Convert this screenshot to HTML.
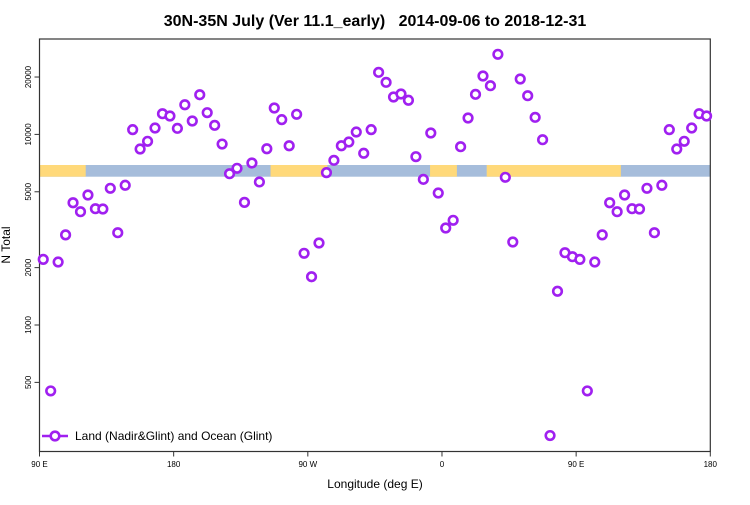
<!DOCTYPE html>
<html><head><meta charset="utf-8"><style>
body{margin:0;background:#fff}
svg text{font-family:"Liberation Sans",sans-serif}
</style></head><body>
<svg id="chart" width="750" height="500" xmlns="http://www.w3.org/2000/svg">
<text x="375" y="26" text-anchor="middle" font-size="16" font-weight="bold" xml:space="preserve">30N-35N July (Ver 11.1_early)   2014-09-06 to 2018-12-31</text>
<g id="band"></g>
<g id="axes"></g>
<g id="points"></g>
<text x="375" y="488" text-anchor="middle" font-size="12">Longitude (deg E)</text>
<text transform="translate(10,245) rotate(-90)" text-anchor="middle" font-size="12">N Total</text>
<g>
<line x1="42" y1="436" x2="68" y2="436" stroke="#A020F0" stroke-width="2.5"/>
<circle cx="55" cy="436" r="4.3" fill="#fff" stroke="#A020F0" stroke-width="2.6"/>
<text x="75" y="440" font-size="12">Land (Nadir&amp;Glint) and Ocean (Glint)</text>
</g>
</svg>
<script>
const lonStart = 92.5;
const lonStep = 5;
const values = [2210,451,2140,2970,4380,3930,4810,4075,4060,5214,3050,5408,10590,8380,9200,10800,12840,12490,
10760,14310,11760,16150,13000,11160,8900,6220,6640,4400,7080,5630,8410,13760,11950,8720,12750,2378,1792,2693,
6300,7310,8720,9120,10290,7960,10590,21170,18760,15710,16290,15100,7640,5810,10170,4925,3228,3543,8620,12190,
16230,20250,18010,26320,5955,2726,19530,15960,12290,9380,263,1503,2395,2282,2210,451,2140,2970,4380,3930,4810,
4075,4060,5214,3050,5408,10590,8380,9200,10800,12840,12490];
const yTicks = [500,1000,2000,5000,10000,20000];
const xTickLons = [90,180,270,360,450,540];
const xTickLabels = ["90 E","180","90 W","0","90 E","180"];
const landSegs = [[90,121],[245,283],[352,370],[390,480]];

const NS="http://www.w3.org/2000/svg";
const L=39.5,R=710.3,T=39,B=451.5;
const xs=lon=>L+(lon-90)*(R-L)/450;
const ys=v=>325-(Math.log10(v)-3)*190.6;
function mk(tag,attrs,parent){const e=document.createElementNS(NS,tag);for(const k in attrs)e.setAttribute(k,attrs[k]);parent.appendChild(e);return e;}
const band=document.getElementById('band');
let r=mk('rect',{x:L,y:165,width:R-L,height:11.7,fill:'#A6BDDB'},band);


landSegs.forEach(s=>{const e=mk('rect',{x:xs(s[0]),y:165,width:xs(s[1])-xs(s[0]),height:11.7,fill:'#FFD97A'},band);

});
const ax=document.getElementById('axes');
mk('rect',{x:L,y:T,width:R-L,height:B-T,fill:'none',stroke:'#333',"stroke-width":1.2},ax);
yTicks.forEach(v=>{const y=ys(v);mk('line',{x1:L-5,y1:y,x2:L,y2:y,stroke:'#333'},ax);
const t=mk('text',{transform:`translate(31,${y}) rotate(-90)`,"text-anchor":"middle","font-size":8},ax);t.textContent=v;

});
xTickLons.forEach((lon,i)=>{const x=xs(lon);mk('line',{x1:x,y1:B,x2:x,y2:B+5,stroke:'#333'},ax);
const t=mk('text',{x:x,y:467,"text-anchor":"middle","font-size":8},ax);t.textContent=xTickLabels[i];

});
const pts=document.getElementById('points');
values.forEach((v,i)=>{const c=mk('circle',{cx:xs(lonStart+i*lonStep),cy:ys(v),r:4.3,fill:'#fff',stroke:'#A020F0',"stroke-width":2.6},pts);

});
</script>
</body></html>
